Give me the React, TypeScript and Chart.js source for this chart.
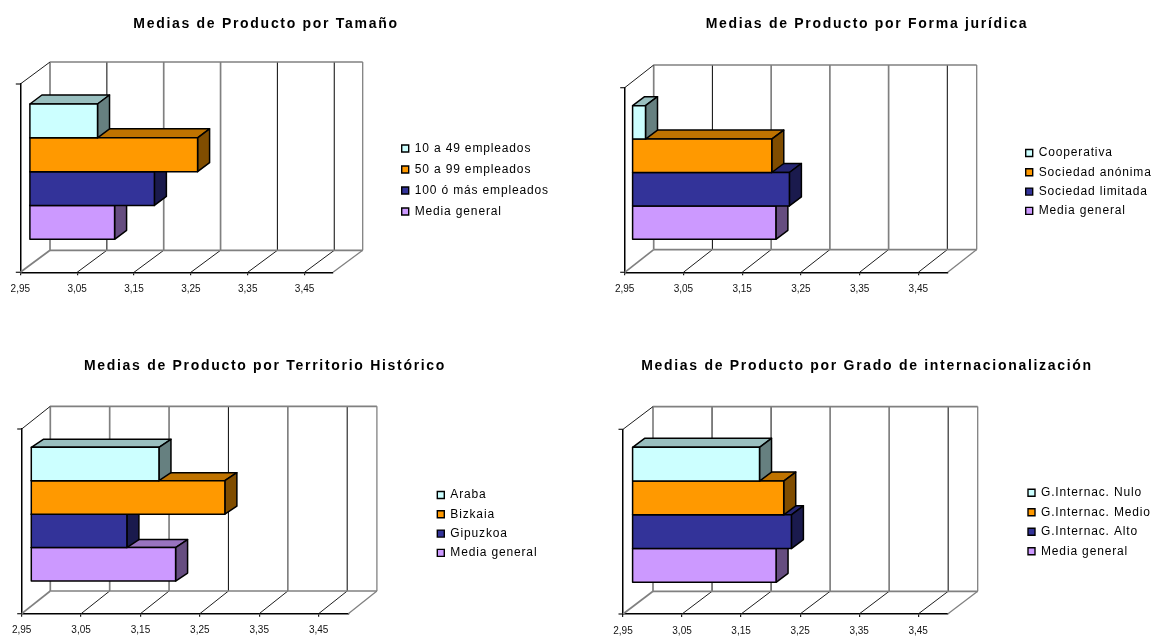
import React, { useEffect, useRef } from "react";
import { Chart, registerables } from "chart.js";

Chart.register(...registerables);

// Axis
const tickValues = [2.95, 3.05, 3.15, 3.25, 3.35, 3.45];
const axisMin = 2.95;
const axisMax = 3.5;

// Series colours, shared by every panel
const seriesColors = ["#CCFFFF", "#FF9900", "#333399", "#CC99FF"];

// Tamaño
const tamanoLabels = ["10 a 49 empleados", "50 a 99 empleados", "100 ó más empleados", "Media general"];
const tamanoValues = [3.07, 3.246, 3.17, 3.1];

// Forma jurídica
const formaLabels = ["Cooperativa", "Sociedad anónima", "Sociedad limitada", "Media general"];
const formaValues = [2.973, 3.188, 3.218, 3.195];

// Territorio Histórico
const territorioLabels = ["Araba", "Bizkaia", "Gipuzkoa", "Media general"];
const territorioValues = [3.166, 3.277, 3.112, 3.194];

// Grado de internacionalización
const gradoLabels = ["G.Internac. Nulo", "G.Internac. Medio", "G.Internac. Alto", "Media general"];
const gradoValues = [3.166, 3.207, 3.22, 3.194];

const DARK = "#1c1c1c";
const GRAY = "#808080";

type Panel = {
  title: string;
  labels: string[];
  values: number[];
  origin: [number, number];
  plot: { left: number; right: number; top: number; bottom: number };
  depth: [number, number]; // wall depth
  barDepth: [number, number];
  barShift: [number, number];
  groupShare: number;
  titleAt: [number, number];
  legendAt: [number, number];
  legendGap: number;
  gridTones: string[];
};

const panels: Panel[] = [
  {
    title: "Medias de Producto por Tamaño",
    labels: tamanoLabels,
    values: tamanoValues,
    origin: [0, 0],
    plot: { left: 20.3, right: 333, top: 84, bottom: 272.3 },
    depth: [29.7, -22],
    barDepth: [12, -9],
    barShift: [9, -6.5],
    groupShare: 0.7185,
    titleAt: [266, 24],
    legendAt: [401.7, 148.5],
    legendGap: 9,
    gridTones: [DARK, GRAY, GRAY, DARK, DARK],
  },
  {
    title: "Medias de Producto por Forma jurídica",
    labels: formaLabels,
    values: formaValues,
    origin: [581, 0],
    plot: { left: 624.7, right: 947.7, top: 87.7, bottom: 272.3 },
    depth: [29, -22.7],
    barDepth: [12, -9],
    barShift: [7.3, -7.5],
    groupShare: 0.724,
    titleAt: [867, 24],
    legendAt: [1025.7, 153],
    legendGap: 7.3,
    gridTones: [DARK, GRAY, GRAY, GRAY, DARK],
  },
  {
    title: "Medias de Producto por Territorio Histórico",
    labels: territorioLabels,
    values: territorioValues,
    origin: [0, 319],
    plot: { left: 21.7, right: 348.3, top: 429, bottom: 613.7 },
    depth: [28.6, -22.7],
    barDepth: [12, -8],
    barShift: [9, -7.2],
    groupShare: 0.724,
    titleAt: [265, 366],
    legendAt: [437.3, 495],
    legendGap: 7.3,
    gridTones: [GRAY, GRAY, DARK, GRAY, DARK],
  },
  {
    title: "Medias de Producto por Grado de internacionalización",
    labels: gradoLabels,
    values: gradoValues,
    origin: [581, 319],
    plot: { left: 623, right: 947.7, top: 429.3, bottom: 614 },
    depth: [30, -22.7],
    barDepth: [12, -9],
    barShift: [9, -6.85],
    groupShare: 0.731,
    titleAt: [867, 366],
    legendAt: [1028, 492.7],
    legendGap: 7.5,
    gridTones: [DARK, DARK, GRAY, GRAY, DARK],
  },
];

const PANEL_W = 580;
const PANEL_H = 318;
const FONT = "'Liberation Sans', Arial, sans-serif";
const TITLE_SIZE = 14;
const LEGEND_SIZE = 12;
const X_AXIS_H = 24;

function shade(hex: string, k: number) {
  const n = parseInt(hex.slice(1), 16);
  const c = [(n >> 16) & 255, (n >> 8) & 255, n & 255].map((v) => Math.round(v * k));
  return `rgb(${c[0]},${c[1]},${c[2]})`;
}

function line(ctx: CanvasRenderingContext2D, x1: number, y1: number, x2: number, y2: number, color: string, width: number) {
  ctx.strokeStyle = color;
  ctx.lineWidth = width;
  ctx.beginPath();
  ctx.moveTo(x1, y1);
  ctx.lineTo(x2, y2);
  ctx.stroke();
}

function polygon(ctx: CanvasRenderingContext2D, pts: number[][], fill: string) {
  ctx.beginPath();
  pts.forEach((p, i) => (i ? ctx.lineTo(p[0], p[1]) : ctx.moveTo(p[0], p[1])));
  ctx.closePath();
  ctx.fillStyle = fill;
  ctx.fill();
  ctx.strokeStyle = "#000";
  ctx.lineWidth = 1.5;
  ctx.lineJoin = "round";
  ctx.stroke();
}

// Letter-spaces a layout box's text while it draws.
function tracked(box: any, ctx: CanvasRenderingContext2D, spacing: string) {
  if (box.__tracked) return;
  box.__tracked = true;
  const draw = box.draw;
  box.draw = function (...args: unknown[]) {
    (ctx as any).letterSpacing = spacing;
    draw.apply(box, args);
    (ctx as any).letterSpacing = "0px";
  };
}

function makeChart(canvas: HTMLCanvasElement, panel: Panel) {
  const [ox, oy] = panel.origin;
  const titleHeight = TITLE_SIZE * 1.2;

  const stage = {
    id: "stage",
    afterLayout(chart: any) {
      tracked(chart.titleBlock, chart.ctx, "1.7px");
      tracked(chart.legend, chart.ctx, "0.85px");
      const title = chart.titleBlock;
      title.left = panel.titleAt[0] - ox - 250;
      title.right = panel.titleAt[0] - ox + 250;
      title.width = 500;
      title.top = panel.titleAt[1] - oy - titleHeight / 2;
      title.bottom = title.top + titleHeight;
      const legend = chart.legend;
      const pad = legend.options.labels.padding;
      legend.left = panel.legendAt[0] - ox - pad;
      legend.right = legend.left + 170;
      legend.top = panel.legendAt[1] - oy - LEGEND_SIZE / 2 - pad;
      legend.bottom = legend.top + 120;
    },
    // Back wall, side wall, floor and axis furniture of the 3-D box
    beforeDatasetsDraw(chart: any) {
      const ctx = chart.ctx as CanvasRenderingContext2D;
      const { left, right, top, bottom } = chart.chartArea;
      const [dx, dy] = panel.depth;
      const x = chart.scales.x;
      ctx.save();
      ctx.lineCap = "butt";
      tickValues.forEach((v, i) => {
        const px = x.getPixelForValue(v);
        if (i > 0) {
          const tone = panel.gridTones[i - 1];
          line(ctx, px + dx, top + dy, px + dx, bottom + dy, tone, tone === GRAY ? 1.7 : 1.1);
          line(ctx, px, bottom, px + dx, bottom + dy, DARK, 1);
        }
      });
      line(ctx, left + dx, top + dy, right + dx, top + dy, GRAY, 1.7);
      line(ctx, left + dx, bottom + dy, right + dx, bottom + dy, GRAY, 1.7);
      line(ctx, left + dx, top + dy, left + dx, bottom + dy, GRAY, 1.7);
      line(ctx, right + dx, top + dy, right + dx, bottom + dy, GRAY, 1.3);
      line(ctx, left, bottom, left + dx, bottom + dy, GRAY, 1.7);
      line(ctx, right, bottom, right + dx, bottom + dy, GRAY, 1.3);
      line(ctx, left, top, left + dx, top + dy, DARK, 1);
      line(ctx, left - 4.5, top, left, top, DARK, 1.2);
      line(ctx, left - 4.5, bottom, left, bottom, DARK, 1.2);
      ctx.restore();
    },
    // Each bar sits inside the box; its side and top faces go down first
    beforeDatasetDraw(chart: any, args: any) {
      const ctx = chart.ctx as CanvasRenderingContext2D;
      const color = seriesColors[args.index];
      const bar = args.meta.data[0].getProps(["x", "y", "base", "height"], true);
      const [dx, dy] = panel.barDepth;
      const t = bar.y - bar.height / 2;
      const b = bar.y + bar.height / 2;
      ctx.save();
      ctx.translate(panel.barShift[0], panel.barShift[1]);
      polygon(ctx, [[bar.base, t], [bar.base + dx, t + dy], [bar.x + dx, t + dy], [bar.x, t]], shade(color, 0.75));
      polygon(ctx, [[bar.x, t], [bar.x + dx, t + dy], [bar.x + dx, b + dy], [bar.x, b]], shade(color, 0.5));
    },
    afterDatasetDraw(chart: any, args: any) {
      const ctx = chart.ctx as CanvasRenderingContext2D;
      const bar = args.meta.data[0].getProps(["x", "y", "base", "height"], true);
      ctx.strokeStyle = "#000";
      ctx.lineWidth = 1.5;
      ctx.strokeRect(bar.base, bar.y - bar.height / 2, bar.x - bar.base, bar.height);
      ctx.restore();
    },
  };

  return new Chart(canvas, {
    type: "bar",
    data: {
      labels: [""],
      datasets: panel.labels.map((label, i) => ({
        label,
        data: [panel.values[i]],
        base: axisMin,
        backgroundColor: seriesColors[i],
        borderWidth: 0,
        barPercentage: 1,
        categoryPercentage: panel.groupShare,
        clip: false as any,
      })),
    },
    options: {
      indexAxis: "y",
      animation: false,
      responsive: false,
      events: [],
      layout: {
        padding: {
          left: panel.plot.left - ox,
          right: PANEL_W - (panel.plot.right - ox),
          top: panel.plot.top - oy - titleHeight,
          bottom: PANEL_H - (panel.plot.bottom - oy) - X_AXIS_H,
        },
      },
      scales: {
        x: {
          type: "linear",
          min: axisMin,
          max: axisMax,
          afterBuildTicks: (s: any) => {
            s.ticks = tickValues.map((value) => ({ value }));
          },
          afterFit: (s: any) => {
            s.height = X_AXIS_H;
          },
          grid: { drawOnChartArea: false, tickLength: 3, color: DARK, lineWidth: 1.2 },
          border: { color: "#000", width: 1.5 },
          ticks: {
            autoSkip: false,
            maxRotation: 0,
            minRotation: 0,
            padding: 8,
            color: "#111",
            font: { family: FONT, size: 10 },
            callback: (v: any) => Number(v).toFixed(2).replace(".", ","),
          },
        },
        y: {
          afterFit: (s: any) => {
            s.width = 0;
          },
          grid: { display: false },
          border: { color: "#000", width: 1.5 },
          ticks: { display: false },
        },
      },
      plugins: {
        tooltip: { enabled: false },
        title: {
          display: true,
          text: panel.title,
          color: "#000",
          padding: 0,
          font: { family: FONT, size: TITLE_SIZE, weight: "bold", lineHeight: 1.2 },
        },
        legend: {
          position: "chartArea",
          align: "start",
          labels: {
            boxWidth: 7,
            boxHeight: 7,
            padding: panel.legendGap,
            color: "#111",
            font: { family: FONT, size: LEGEND_SIZE },
            generateLabels: () =>
              panel.labels.map((text, i) => ({
                text,
                fillStyle: seriesColors[i],
                strokeStyle: "#000",
                lineWidth: 1.4,
                datasetIndex: i,
              })),
          },
        },
      },
    },
    plugins: [stage],
  } as any);
}

function PanelChart({ panel }: { panel: Panel }) {
  const ref = useRef<HTMLCanvasElement>(null);
  useEffect(() => {
    const chart = makeChart(ref.current as HTMLCanvasElement, panel);
    return () => chart.destroy();
  }, [panel]);
  return (
    <canvas
      ref={ref}
      width={PANEL_W}
      height={PANEL_H}
      style={{ position: "absolute", left: panel.origin[0], top: panel.origin[1], width: PANEL_W, height: PANEL_H }}
    />
  );
}

export default function App() {
  return (
    <div style={{ position: "absolute", left: 0, top: 0, width: 1161, height: 637, background: "#fff", overflow: "hidden" }}>
      {panels.map((p) => (
        <PanelChart key={p.title} panel={p} />
      ))}
    </div>
  );
}
